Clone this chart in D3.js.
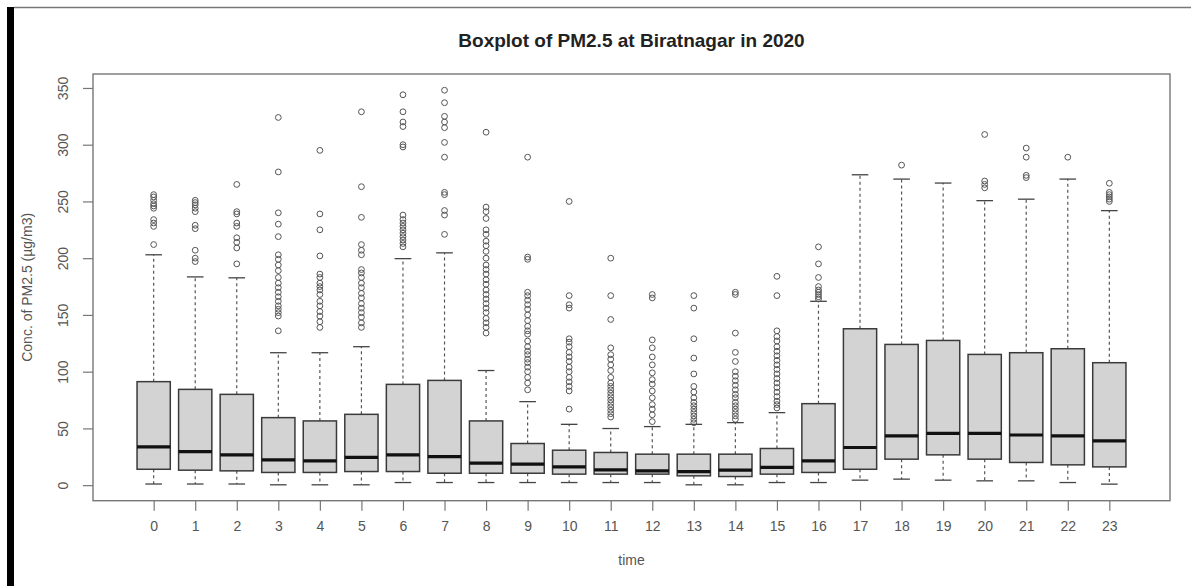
<!DOCTYPE html>
<html>
<head>
<meta charset="utf-8">
<script src="https://cdn.jsdelivr.net/npm/d3@7"></script>
<style>
  html, body { margin: 0; padding: 0; background: #fff; }
  svg { display: block; font-family: "Liberation Sans", Arial, Helvetica, sans-serif; }
</style>
</head>
<body>
<svg id="chart" width="1191" height="586"></svg>
<script>
// ---- data ----
const hours = [0,1,2,3,4,5,6,7,8,9,10,11,12,13,14,15,16,17,18,19,20,21,22,23];
const whiskerLow  = [1, 1, 1, 0.3, 0.3, 0.3, 2.3, 2.3, 2.3, 2.3, 2.3, 2.3, 2.3, 0.3, 0.3, 2.3, 2.3, 4.4, 5.3, 4.4, 3.8, 3.8, 2.3, 0.9];
const q1          = [14, 13.2, 12.6, 11.2, 11.2, 12, 12, 10.5, 10.5, 10.5, 9.7, 9.7, 9.7, 8.2, 7.6, 9.7, 11.2, 14, 22.9, 26.7, 22.9, 20, 17.9, 16.1];
const medians     = [33.7, 29.6, 26.7, 22.3, 21.4, 24.4, 26.7, 25.2, 19.4, 18.5, 16.1, 13.5, 12.6, 12, 13.2, 15.6, 21.4, 33.2, 43.4, 45.7, 45.7, 44.2, 43.4, 39];
const q3          = [91.2, 84.4, 80, 59.5, 56.6, 62.4, 88.8, 92.3, 56.6, 36.7, 30.8, 28.8, 27.3, 27.3, 27.3, 32.3, 71.8, 137.8, 124, 127.5, 115.2, 116.7, 120.2, 107.9];
const whiskerHigh = [203, 183.5, 182.7, 116.7, 116.7, 122, 199.6, 204.7, 101, 73.6, 53.6, 49.9, 51.6, 53.6, 55.1, 63.9, 162, 273.5, 269.7, 266.2, 250.7, 252, 269.7, 241.9];
const outliers = [
  [212, 228, 231, 234, 244, 246, 248, 251, 254, 256],
  [197, 200, 207, 226, 229, 241, 244, 247, 249, 251],
  [195, 209, 214, 218, 228, 231, 239, 241, 265],
  [136, 149, 152, 155, 158, 162, 166, 170, 174, 178, 183, 189, 194, 199, 203, 219, 230, 240, 276, 324],
  [139, 144, 149, 153, 158, 162, 168, 172, 175, 178, 183, 186, 202, 225, 239, 295],
  [139, 143, 148, 152, 156, 160, 165, 169, 174, 178, 183, 187, 190, 203, 207, 212, 236, 263, 329],
  [210, 213, 216, 219, 222, 225, 228, 231, 234, 238, 298, 300, 316, 320, 329, 344],
  [221, 238, 242, 256, 258, 289, 302, 315, 320, 325, 337, 348],
  [134, 139, 143, 147, 152, 156, 160, 164, 168, 172, 177, 181, 186, 190, 194, 200, 206, 211, 215, 221, 225, 235, 241, 245, 311],
  [84, 90, 95, 100, 104, 108, 111, 115, 118, 122, 127, 133, 136, 140, 145, 150, 155, 159, 163, 167, 170, 199, 201, 289],
  [67, 83, 87, 91, 95, 100, 104, 109, 113, 117, 122, 126, 129, 156, 159, 167, 250],
  [60, 63, 66, 69, 72, 75, 78, 81, 84, 87, 90, 95, 101, 106, 111, 115, 121, 146, 167, 200],
  [56, 62, 67, 71, 77, 83, 89, 93, 99, 106, 113, 121, 128, 165, 168],
  [55, 58, 61, 64, 67, 70, 73, 77, 82, 87, 98, 112, 129, 156, 167],
  [58, 61, 64, 67, 70, 73, 77, 80, 84, 88, 92, 96, 100, 109, 117, 134, 168, 170],
  [68, 71, 74, 78, 82, 86, 90, 94, 98, 102, 106, 110, 114, 118, 122, 127, 131, 136, 167, 184],
  [164, 166, 168, 170, 172, 175, 183, 195, 210],
  [],
  [282],
  [],
  [262, 265, 268, 309],
  [271, 273, 289, 297],
  [289],
  [250, 252, 254, 256, 258, 266]
];
const yTicks = [0, 50, 100, 150, 200, 250, 300, 350];
const titleText = "Boxplot of PM2.5 at Biratnagar in 2020";
const xLabel = "time";
const yLabel = "Conc. of PM2.5 (\u00b5g/m3)";

// ---- layout ----
const plot = { left: 93, right: 1170, top: 74, bottom: 500.7 };
const svg = d3.select("#chart");

// frame decorations of the screenshot
svg.append("rect").attr("x", 7).attr("y", 7).attr("width", 7).attr("height", 579).attr("fill", "#000");
svg.append("line").attr("x1", 14).attr("x2", 1191).attr("y1", 7.5).attr("y2", 7.5)
  .attr("stroke", "#777").attr("stroke-width", 1.5);

const x = d3.scaleLinear().domain([-1.46, 24.46]).range([plot.left, plot.right]);
const y = d3.scaleLinear().domain([-13.7, 362.3]).range([plot.bottom, plot.top]);
const unit = x(1) - x(0);
const boxW = unit * 0.8;
const capW = unit * 0.4;

const data = hours.map((h, i) => ({
  h, lo: whiskerLow[i], q1: q1[i], med: medians[i], q3: q3[i], hi: whiskerHigh[i], out: outliers[i]
}));

const g = svg.append("g");
const boxes = g.selectAll("g.box").data(data).join("g").attr("class", "box");

// whiskers (dashed)
boxes.append("line")
  .attr("x1", d => x(d.h)).attr("x2", d => x(d.h))
  .attr("y1", d => y(d.q3)).attr("y2", d => y(d.hi))
  .attr("stroke", "#555").attr("stroke-width", 1.2).attr("stroke-dasharray", "3,3");
boxes.append("line")
  .attr("x1", d => x(d.h)).attr("x2", d => x(d.h))
  .attr("y1", d => y(d.q1)).attr("y2", d => y(d.lo))
  .attr("stroke", "#555").attr("stroke-width", 1.2).attr("stroke-dasharray", "3,3");
// caps
boxes.append("line")
  .attr("x1", d => x(d.h) - capW / 2).attr("x2", d => x(d.h) + capW / 2)
  .attr("y1", d => y(d.hi)).attr("y2", d => y(d.hi))
  .attr("stroke", "#444").attr("stroke-width", 1.3);
boxes.append("line")
  .attr("x1", d => x(d.h) - capW / 2).attr("x2", d => x(d.h) + capW / 2)
  .attr("y1", d => y(d.lo)).attr("y2", d => y(d.lo))
  .attr("stroke", "#444").attr("stroke-width", 1.3);
// box
boxes.append("rect")
  .attr("x", d => x(d.h) - boxW / 2).attr("width", boxW)
  .attr("y", d => y(d.q3)).attr("height", d => y(d.q1) - y(d.q3))
  .attr("fill", "#d3d3d3").attr("stroke", "#3a3a3a").attr("stroke-width", 1.5);
// median
boxes.append("line")
  .attr("x1", d => x(d.h) - boxW / 2).attr("x2", d => x(d.h) + boxW / 2)
  .attr("y1", d => y(d.med)).attr("y2", d => y(d.med))
  .attr("stroke", "#111").attr("stroke-width", 3.2);
// outliers
boxes.selectAll("circle").data(d => d.out.map(v => ({ h: d.h, v }))).join("circle")
  .attr("cx", d => x(d.h)).attr("cy", d => y(d.v)).attr("r", 2.9)
  .attr("fill", "none").attr("stroke", "#555").attr("stroke-width", 1);

// plot frame
svg.append("rect")
  .attr("x", plot.left).attr("y", plot.top)
  .attr("width", plot.right - plot.left).attr("height", plot.bottom - plot.top)
  .attr("fill", "none").attr("stroke", "#777").attr("stroke-width", 1.4);

// axes
const yAxis = d3.axisLeft(y).tickValues(yTicks).tickSize(10).tickPadding(0).tickFormat(d3.format("d"));
const yg = svg.append("g").attr("transform", `translate(${plot.left},0)`).call(yAxis);
yg.select(".domain").remove();
yg.selectAll(".tick line").attr("stroke", "#777").attr("stroke-width", 1.2);
yg.selectAll(".tick text")
  .attr("x", 0).attr("dy", null)
  .attr("transform", "translate(-25,0) rotate(-90)")
  .attr("text-anchor", "middle")
  .attr("fill", "#555").style("font-size", "14px");

const xAxis = d3.axisBottom(x).tickValues(hours).tickSize(10).tickPadding(0).tickFormat(d3.format("d"));
const xg = svg.append("g").attr("transform", `translate(0,${plot.bottom})`).call(xAxis);
xg.select(".domain").remove();
xg.selectAll(".tick line").attr("stroke", "#777").attr("stroke-width", 1.2);
xg.selectAll(".tick text").attr("y", 30.5).attr("dy", null)
  .attr("fill", "#555").style("font-size", "14px");

// title and labels
svg.append("text").attr("x", (plot.left + plot.right) / 2).attr("y", 47)
  .attr("text-anchor", "middle").attr("font-weight", "bold").attr("fill", "#222")
  .style("font-size", "19px").text(titleText);
svg.append("text").attr("x", (plot.left + plot.right) / 2).attr("y", 565)
  .attr("text-anchor", "middle").attr("fill", "#555")
  .style("font-size", "14px").text(xLabel);
svg.append("text")
  .attr("transform", `translate(32,${(plot.top + plot.bottom) / 2}) rotate(-90)`)
  .attr("text-anchor", "middle").attr("fill", "#555")
  .style("font-size", "14px").text(yLabel);
</script>
</body>
</html>
